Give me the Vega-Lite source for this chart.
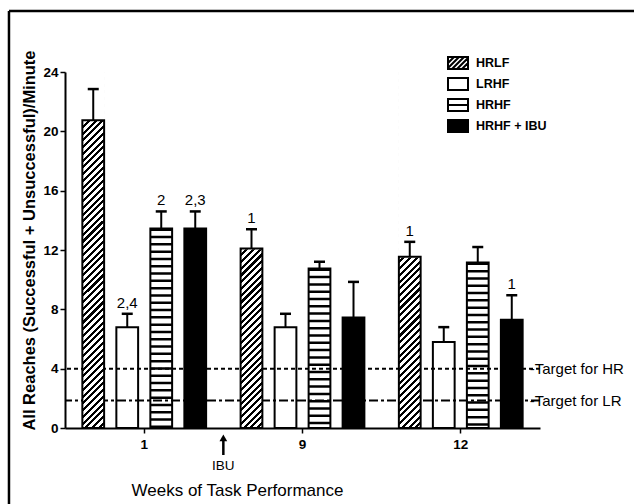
{
  "$schema": "https://vega.github.io/schema/vega-lite/v6.json",
  "autosize": "none",
  "width": 475,
  "height": 356,
  "padding": {"left": 65, "top": 72, "right": 94, "bottom": 76},
  "background": "white",
  "config": {
    "font": "Liberation Sans",
    "view": {"stroke": null},
    "axis": {"domainColor": "black", "tickColor": "black", "labelColor": "black", "titleColor": "black", "labelFont": "Liberation Sans", "titleFont": "Liberation Sans", "labelFontWeight": "bold", "labelFontSize": 13.5, "labelOverlap": false, "domainWidth": 2, "tickWidth": 1.5, "tickSize": 5, "grid": false},
    "axisY": {"tickCount": 12, "labelOverlap": false}
  },
  "data": {"values": [
      {"week": "1", "group": "HRLF", "value": 20.75, "upper": 22.85, "label": ""},
      {"week": "1", "group": "LRHF", "value": 6.8, "upper": 7.7, "label": "2,4"},
      {"week": "1", "group": "HRHF", "value": 13.45, "upper": 14.6, "label": "2"},
      {"week": "1", "group": "HRHF + IBU", "value": 13.45, "upper": 14.6, "label": "2,3"},
      {"week": "9", "group": "HRLF", "value": 12.1, "upper": 13.4, "label": "1"},
      {"week": "9", "group": "LRHF", "value": 6.8, "upper": 7.7, "label": ""},
      {"week": "9", "group": "HRHF", "value": 10.75, "upper": 11.2, "label": ""},
      {"week": "9", "group": "HRHF + IBU", "value": 7.45, "upper": 9.85, "label": ""},
      {"week": "12", "group": "HRLF", "value": 11.55, "upper": 12.55, "label": "1"},
      {"week": "12", "group": "LRHF", "value": 5.8, "upper": 6.8, "label": ""},
      {"week": "12", "group": "HRHF", "value": 11.15, "upper": 12.2, "label": ""},
      {"week": "12", "group": "HRHF + IBU", "value": 7.3, "upper": 8.95, "label": "1"}
  ]},
  "layer": [
    {
      "mark": {"type": "bar", "stroke": null, "fill": "transparent"},
      "encoding": {
        "x": {"field": "week", "type": "nominal", "scale": {"domain": ["1", "9", "12"], "paddingInner": 0.1406, "paddingOuter": 0.071}, "axis": {"title": "Weeks of Task  Performance", "labelAngle": 0, "bandPosition": 0.5, "labelPadding": 4, "titleFontSize": 17, "titleFontWeight": "normal", "titleX": 172, "titleY": 67, "titleBaseline": "alphabetic", "titleAlign": "center"}},
        "xOffset": {"field": "group", "type": "nominal", "scale": {"domain": ["HRLF", "LRHF", "HRHF", "HRHF + IBU"], "paddingInner": 0.36, "paddingOuter": 0.18}},
        "y": {"field": "value", "type": "quantitative", "scale": {"domain": [0, 24], "nice": false}, "axis": {"title": "All Reaches (Successful + Unsuccessful)/Minute", "values": [0, 2, 4, 6, 8, 10, 12, 14, 16, 18, 20, 22, 24], "tickCount": 12, "labelOverlap": false, "labelPadding": 2, "titleFontSize": 16.5, "titleFontWeight": "bold", "titleX": -36, "titleY": 168, "titleAngle": 270, "titleAlign": "center", "titleBaseline": "middle"}}
      }
    },
    {
      "data": {"values": [{"week": "1", "week2": "12"}]},
      "mark": {"type": "rule", "color": "black", "strokeWidth": 2.5},
      "encoding": {
        "x": {"field": "week", "type": "nominal", "bandPosition": -0.4945},
        "y": {"datum": 28.11, "type": "quantitative"},
        "y2": {"datum": -6}
      }
    },
    {
      "data": {"values": [{"week": "1", "week2": "12"}]},
      "mark": {"type": "rule", "color": "black", "strokeWidth": 2.5},
      "encoding": {
        "x": {"field": "week", "type": "nominal", "bandPosition": -0.4945},
        "x2": {"field": "week2", "bandPosition": 1.85},
        "y": {"datum": 28.11, "type": "quantitative"}
      }
    },
    {
      "data": {"values": [{"t": "HR"}]},
      "mark": {"type": "rule", "color": "black", "strokeWidth": 2, "strokeDash": [4, 3]},
      "encoding": {"y": {"datum": 4, "type": "quantitative"}}
    },
    {
      "data": {"values": [{"t": "LR"}]},
      "mark": {"type": "rule", "color": "black", "strokeWidth": 2, "strokeDash": [9, 3, 3, 3]},
      "encoding": {"y": {"datum": 1.85, "type": "quantitative"}}
    },
    {
      "data": {"values": [{"week": "12", "txt": "-Target for HR", "lev": 4}, {"week": "12", "txt": "-Target for LR", "lev": 1.85}]},
      "mark": {"type": "text", "align": "left", "baseline": "middle", "fontSize": 15, "color": "black", "dx": 1},
      "encoding": {
        "x": {"field": "week", "type": "nominal", "bandPosition": 1},
        "y": {"field": "lev", "type": "quantitative"},
        "text": {"field": "txt"}
      }
    },
    {
      "transform": [{"filter": "datum.group === 'HRLF'"}],
      "mark": {"type": "bar", "fill": {"gradient": "linear", "x1": 0, "y1": 0, "x2": 0.0646, "y2": 1.0572, "stops": [
        {"offset": 0, "color": "#000"}, {"offset": 0.0080, "color": "#000"}, {"offset": 0.0080, "color": "#fff"}, {"offset": 0.0179, "color": "#fff"},
        {"offset": 0.0179, "color": "#000"}, {"offset": 0.0259, "color": "#000"}, {"offset": 0.0259, "color": "#fff"}, {"offset": 0.0357, "color": "#fff"},
        {"offset": 0.0357, "color": "#000"}, {"offset": 0.0438, "color": "#000"}, {"offset": 0.0438, "color": "#fff"}, {"offset": 0.0536, "color": "#fff"},
        {"offset": 0.0536, "color": "#000"}, {"offset": 0.0616, "color": "#000"}, {"offset": 0.0616, "color": "#fff"}, {"offset": 0.0714, "color": "#fff"},
        {"offset": 0.0714, "color": "#000"}, {"offset": 0.0795, "color": "#000"}, {"offset": 0.0795, "color": "#fff"}, {"offset": 0.0893, "color": "#fff"},
        {"offset": 0.0893, "color": "#000"}, {"offset": 0.0973, "color": "#000"}, {"offset": 0.0973, "color": "#fff"}, {"offset": 0.1071, "color": "#fff"},
        {"offset": 0.1071, "color": "#000"}, {"offset": 0.1152, "color": "#000"}, {"offset": 0.1152, "color": "#fff"}, {"offset": 0.1250, "color": "#fff"},
        {"offset": 0.1250, "color": "#000"}, {"offset": 0.1330, "color": "#000"}, {"offset": 0.1330, "color": "#fff"}, {"offset": 0.1429, "color": "#fff"},
        {"offset": 0.1429, "color": "#000"}, {"offset": 0.1509, "color": "#000"}, {"offset": 0.1509, "color": "#fff"}, {"offset": 0.1607, "color": "#fff"},
        {"offset": 0.1607, "color": "#000"}, {"offset": 0.1688, "color": "#000"}, {"offset": 0.1688, "color": "#fff"}, {"offset": 0.1786, "color": "#fff"},
        {"offset": 0.1786, "color": "#000"}, {"offset": 0.1866, "color": "#000"}, {"offset": 0.1866, "color": "#fff"}, {"offset": 0.1964, "color": "#fff"},
        {"offset": 0.1964, "color": "#000"}, {"offset": 0.2045, "color": "#000"}, {"offset": 0.2045, "color": "#fff"}, {"offset": 0.2143, "color": "#fff"},
        {"offset": 0.2143, "color": "#000"}, {"offset": 0.2223, "color": "#000"}, {"offset": 0.2223, "color": "#fff"}, {"offset": 0.2321, "color": "#fff"},
        {"offset": 0.2321, "color": "#000"}, {"offset": 0.2402, "color": "#000"}, {"offset": 0.2402, "color": "#fff"}, {"offset": 0.2500, "color": "#fff"},
        {"offset": 0.2500, "color": "#000"}, {"offset": 0.2580, "color": "#000"}, {"offset": 0.2580, "color": "#fff"}, {"offset": 0.2679, "color": "#fff"},
        {"offset": 0.2679, "color": "#000"}, {"offset": 0.2759, "color": "#000"}, {"offset": 0.2759, "color": "#fff"}, {"offset": 0.2857, "color": "#fff"},
        {"offset": 0.2857, "color": "#000"}, {"offset": 0.2938, "color": "#000"}, {"offset": 0.2938, "color": "#fff"}, {"offset": 0.3036, "color": "#fff"},
        {"offset": 0.3036, "color": "#000"}, {"offset": 0.3116, "color": "#000"}, {"offset": 0.3116, "color": "#fff"}, {"offset": 0.3214, "color": "#fff"},
        {"offset": 0.3214, "color": "#000"}, {"offset": 0.3295, "color": "#000"}, {"offset": 0.3295, "color": "#fff"}, {"offset": 0.3393, "color": "#fff"},
        {"offset": 0.3393, "color": "#000"}, {"offset": 0.3473, "color": "#000"}, {"offset": 0.3473, "color": "#fff"}, {"offset": 0.3571, "color": "#fff"},
        {"offset": 0.3571, "color": "#000"}, {"offset": 0.3652, "color": "#000"}, {"offset": 0.3652, "color": "#fff"}, {"offset": 0.3750, "color": "#fff"},
        {"offset": 0.3750, "color": "#000"}, {"offset": 0.3830, "color": "#000"}, {"offset": 0.3830, "color": "#fff"}, {"offset": 0.3929, "color": "#fff"},
        {"offset": 0.3929, "color": "#000"}, {"offset": 0.4009, "color": "#000"}, {"offset": 0.4009, "color": "#fff"}, {"offset": 0.4107, "color": "#fff"},
        {"offset": 0.4107, "color": "#000"}, {"offset": 0.4188, "color": "#000"}, {"offset": 0.4188, "color": "#fff"}, {"offset": 0.4286, "color": "#fff"},
        {"offset": 0.4286, "color": "#000"}, {"offset": 0.4366, "color": "#000"}, {"offset": 0.4366, "color": "#fff"}, {"offset": 0.4464, "color": "#fff"},
        {"offset": 0.4464, "color": "#000"}, {"offset": 0.4545, "color": "#000"}, {"offset": 0.4545, "color": "#fff"}, {"offset": 0.4643, "color": "#fff"},
        {"offset": 0.4643, "color": "#000"}, {"offset": 0.4723, "color": "#000"}, {"offset": 0.4723, "color": "#fff"}, {"offset": 0.4821, "color": "#fff"},
        {"offset": 0.4821, "color": "#000"}, {"offset": 0.4902, "color": "#000"}, {"offset": 0.4902, "color": "#fff"}, {"offset": 0.5000, "color": "#fff"},
        {"offset": 0.5000, "color": "#000"}, {"offset": 0.5080, "color": "#000"}, {"offset": 0.5080, "color": "#fff"}, {"offset": 0.5179, "color": "#fff"},
        {"offset": 0.5179, "color": "#000"}, {"offset": 0.5259, "color": "#000"}, {"offset": 0.5259, "color": "#fff"}, {"offset": 0.5357, "color": "#fff"},
        {"offset": 0.5357, "color": "#000"}, {"offset": 0.5438, "color": "#000"}, {"offset": 0.5438, "color": "#fff"}, {"offset": 0.5536, "color": "#fff"},
        {"offset": 0.5536, "color": "#000"}, {"offset": 0.5616, "color": "#000"}, {"offset": 0.5616, "color": "#fff"}, {"offset": 0.5714, "color": "#fff"},
        {"offset": 0.5714, "color": "#000"}, {"offset": 0.5795, "color": "#000"}, {"offset": 0.5795, "color": "#fff"}, {"offset": 0.5893, "color": "#fff"},
        {"offset": 0.5893, "color": "#000"}, {"offset": 0.5973, "color": "#000"}, {"offset": 0.5973, "color": "#fff"}, {"offset": 0.6071, "color": "#fff"},
        {"offset": 0.6071, "color": "#000"}, {"offset": 0.6152, "color": "#000"}, {"offset": 0.6152, "color": "#fff"}, {"offset": 0.6250, "color": "#fff"},
        {"offset": 0.6250, "color": "#000"}, {"offset": 0.6330, "color": "#000"}, {"offset": 0.6330, "color": "#fff"}, {"offset": 0.6429, "color": "#fff"},
        {"offset": 0.6429, "color": "#000"}, {"offset": 0.6509, "color": "#000"}, {"offset": 0.6509, "color": "#fff"}, {"offset": 0.6607, "color": "#fff"},
        {"offset": 0.6607, "color": "#000"}, {"offset": 0.6688, "color": "#000"}, {"offset": 0.6688, "color": "#fff"}, {"offset": 0.6786, "color": "#fff"},
        {"offset": 0.6786, "color": "#000"}, {"offset": 0.6866, "color": "#000"}, {"offset": 0.6866, "color": "#fff"}, {"offset": 0.6964, "color": "#fff"},
        {"offset": 0.6964, "color": "#000"}, {"offset": 0.7045, "color": "#000"}, {"offset": 0.7045, "color": "#fff"}, {"offset": 0.7143, "color": "#fff"},
        {"offset": 0.7143, "color": "#000"}, {"offset": 0.7223, "color": "#000"}, {"offset": 0.7223, "color": "#fff"}, {"offset": 0.7321, "color": "#fff"},
        {"offset": 0.7321, "color": "#000"}, {"offset": 0.7402, "color": "#000"}, {"offset": 0.7402, "color": "#fff"}, {"offset": 0.7500, "color": "#fff"},
        {"offset": 0.7500, "color": "#000"}, {"offset": 0.7580, "color": "#000"}, {"offset": 0.7580, "color": "#fff"}, {"offset": 0.7679, "color": "#fff"},
        {"offset": 0.7679, "color": "#000"}, {"offset": 0.7759, "color": "#000"}, {"offset": 0.7759, "color": "#fff"}, {"offset": 0.7857, "color": "#fff"},
        {"offset": 0.7857, "color": "#000"}, {"offset": 0.7938, "color": "#000"}, {"offset": 0.7938, "color": "#fff"}, {"offset": 0.8036, "color": "#fff"},
        {"offset": 0.8036, "color": "#000"}, {"offset": 0.8116, "color": "#000"}, {"offset": 0.8116, "color": "#fff"}, {"offset": 0.8214, "color": "#fff"},
        {"offset": 0.8214, "color": "#000"}, {"offset": 0.8295, "color": "#000"}, {"offset": 0.8295, "color": "#fff"}, {"offset": 0.8393, "color": "#fff"},
        {"offset": 0.8393, "color": "#000"}, {"offset": 0.8473, "color": "#000"}, {"offset": 0.8473, "color": "#fff"}, {"offset": 0.8571, "color": "#fff"},
        {"offset": 0.8571, "color": "#000"}, {"offset": 0.8652, "color": "#000"}, {"offset": 0.8652, "color": "#fff"}, {"offset": 0.8750, "color": "#fff"},
        {"offset": 0.8750, "color": "#000"}, {"offset": 0.8830, "color": "#000"}, {"offset": 0.8830, "color": "#fff"}, {"offset": 0.8929, "color": "#fff"},
        {"offset": 0.8929, "color": "#000"}, {"offset": 0.9009, "color": "#000"}, {"offset": 0.9009, "color": "#fff"}, {"offset": 0.9107, "color": "#fff"},
        {"offset": 0.9107, "color": "#000"}, {"offset": 0.9188, "color": "#000"}, {"offset": 0.9188, "color": "#fff"}, {"offset": 0.9286, "color": "#fff"},
        {"offset": 0.9286, "color": "#000"}, {"offset": 0.9366, "color": "#000"}, {"offset": 0.9366, "color": "#fff"}, {"offset": 0.9464, "color": "#fff"},
        {"offset": 0.9464, "color": "#000"}, {"offset": 0.9545, "color": "#000"}, {"offset": 0.9545, "color": "#fff"}, {"offset": 0.9643, "color": "#fff"},
        {"offset": 0.9643, "color": "#000"}, {"offset": 0.9723, "color": "#000"}, {"offset": 0.9723, "color": "#fff"}, {"offset": 0.9821, "color": "#fff"},
        {"offset": 0.9821, "color": "#000"}, {"offset": 0.9902, "color": "#000"}, {"offset": 0.9902, "color": "#fff"}, {"offset": 1, "color": "#fff"}
      ]}},
      "encoding": {
        "x": {"field": "week", "type": "nominal"},
        "xOffset": {"field": "group", "type": "nominal"},
        "y": {"datum": 24, "type": "quantitative"},
        "y2": {"datum": 0}
      }
    },
    {
      "transform": [{"filter": "datum.group === 'HRLF'"}],
      "mark": {"type": "bar", "fill": "white", "stroke": "white", "strokeWidth": 1.5},
      "encoding": {
        "x": {"field": "week", "type": "nominal"},
        "xOffset": {"field": "group", "type": "nominal"},
        "y": {"field": "value", "type": "quantitative"},
        "y2": {"datum": 24}
      }
    },
    {
      "transform": [{"filter": "datum.group === 'HRHF'"}],
      "mark": {"type": "rule", "color": "black", "strokeWidth": 21.76, "strokeDash": [2.5, 4.8]},
      "encoding": {
        "x": {"field": "week", "type": "nominal"},
        "xOffset": {"field": "group", "type": "nominal"},
        "y": {"field": "value", "type": "quantitative"},
        "y2": {"datum": 0}
      }
    },
    {
      "mark": {"type": "bar", "stroke": "black", "strokeWidth": 2},
      "encoding": {
        "x": {"field": "week", "type": "nominal"},
        "xOffset": {"field": "group", "type": "nominal"},
        "y": {"field": "value", "type": "quantitative"},
        "fill": {"field": "group", "type": "nominal", "scale": {"domain": ["HRLF", "LRHF", "HRHF", "HRHF + IBU"], "range": ["transparent", "transparent", "transparent", "black"]}}
      }
    },
    {
      "mark": {"type": "point", "filled": true, "opacity": 0},
      "encoding": {
        "x": {"field": "week", "type": "nominal"},
        "xOffset": {"field": "group", "type": "nominal"},
        "y": {"field": "value", "type": "quantitative"},
        "fill": {"field": "group", "type": "nominal", "legend": {"title": null, "orient": "none", "legendX": 382, "legendY": -20, "symbolSize": 400, "symbolStrokeColor": "black", "symbolStrokeWidth": 2, "symbolOpacity": 1, "labelFontSize": 12.5, "labelFontWeight": "bold", "labelColor": "black", "labelFont": "Liberation Sans", "labelOffset": 7, "rowPadding": 0,
          "encode": {"symbols": {"update": {"stroke": {"value": "black"}, "strokeWidth": {"value": 2}, "opacity": {"value": 1}}}}}},
        "shape": {"field": "group", "type": "nominal", "scale": {"domain": ["HRLF", "LRHF", "HRHF", "HRHF + IBU"], "range": [
          "M-1,-0.6H1V0.6H-1ZM-1,0L-0.4,-0.6M-1,0.5L0.1,-0.6M-0.6,0.6L0.6,-0.6M-0.1,0.6L1,-0.5M0.4,0.6L1,0",
          "M-1,-0.6H1V0.6H-1Z",
          "M-1,-0.6H1V0.6H-1ZM-1,0H1",
          "M-1,-0.6H1V0.6H-1Z"
        ]}, "legend": {"title": null, "orient": "none", "legendX": 382, "legendY": -20, "symbolSize": 400, "symbolStrokeColor": "black", "symbolStrokeWidth": 2, "symbolOpacity": 1, "labelFontSize": 12.5, "labelFontWeight": "bold", "labelColor": "black", "labelFont": "Liberation Sans", "labelOffset": 7, "rowPadding": 0,
          "encode": {"symbols": {"update": {"stroke": {"value": "black"}, "strokeWidth": {"value": 2}, "opacity": {"value": 1}}}}}}
      }
    },
    {
      "mark": {"type": "rule", "color": "black", "strokeWidth": 2},
      "encoding": {
        "x": {"field": "week", "type": "nominal"},
        "xOffset": {"field": "group", "type": "nominal"},
        "y": {"field": "value", "type": "quantitative"},
        "y2": {"field": "upper"}
      }
    },
    {
      "mark": {"type": "tick", "orient": "horizontal", "color": "black", "size": 11, "thickness": 2.5, "opacity": 1},
      "encoding": {
        "x": {"field": "week", "type": "nominal"},
        "xOffset": {"field": "group", "type": "nominal"},
        "y": {"field": "upper", "type": "quantitative"}
      }
    },
    {
      "mark": {"type": "text", "baseline": "bottom", "fontSize": 15, "color": "black", "dy": -3},
      "encoding": {
        "x": {"field": "week", "type": "nominal"},
        "xOffset": {"field": "group", "type": "nominal"},
        "y": {"field": "upper", "type": "quantitative"},
        "text": {"field": "label"}
      }
    },
    {
      "data": {"values": [{"week": "9", "lab": "IBU"}]},
      "mark": {"type": "rule", "color": "black", "strokeWidth": 2.5},
      "encoding": {
        "x": {"field": "week", "type": "nominal", "bandPosition": -0.082},
        "y": {"datum": -0.81, "type": "quantitative"},
        "y2": {"datum": -1.82}
      }
    },
    {
      "data": {"values": [{"week": "9", "lab": "IBU"}]},
      "mark": {"type": "point", "shape": "triangle-up", "filled": true, "color": "black", "size": 60, "opacity": 1},
      "encoding": {
        "x": {"field": "week", "type": "nominal", "bandPosition": -0.082},
        "y": {"datum": -0.67, "type": "quantitative"}
      }
    },
    {
      "data": {"values": [{"week": "9", "lab": "IBU"}]},
      "mark": {"type": "text", "fontSize": 13.5, "color": "black", "baseline": "middle"},
      "encoding": {
        "x": {"field": "week", "type": "nominal", "bandPosition": -0.082},
        "y": {"datum": -2.56, "type": "quantitative"},
        "text": {"field": "lab"}
      }
    }
  ]
}
